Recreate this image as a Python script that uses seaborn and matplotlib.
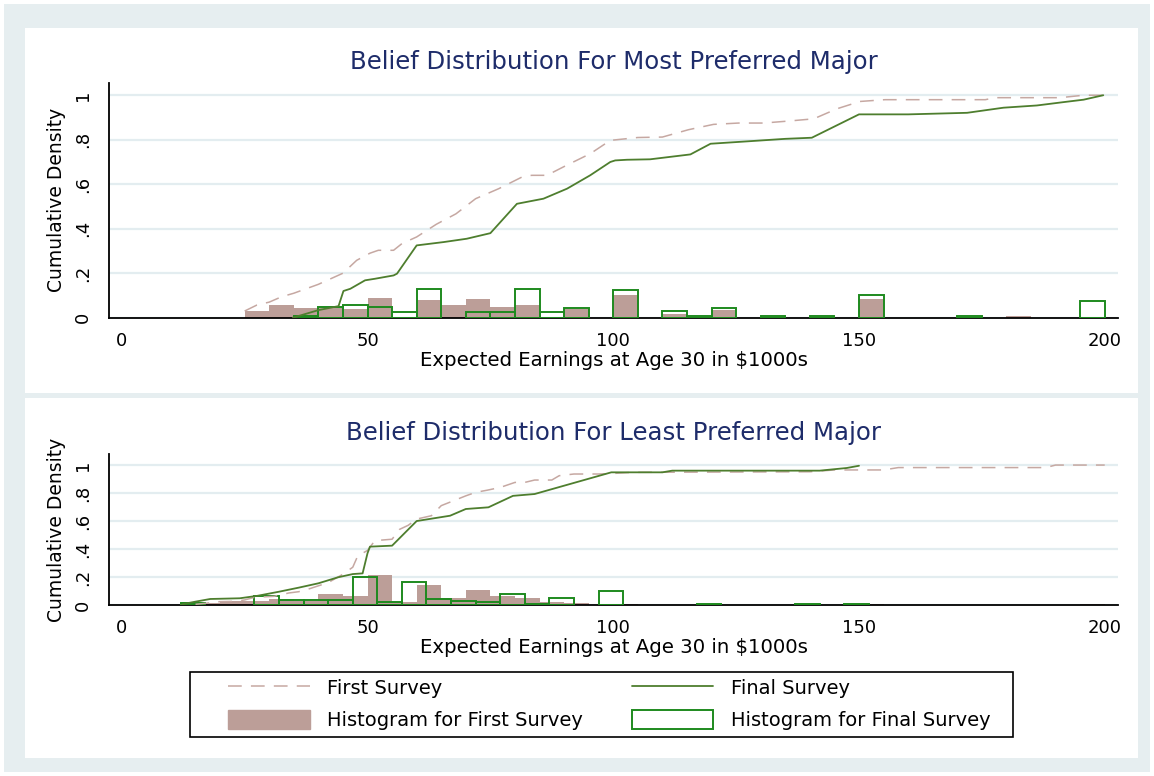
import numpy as np
import pandas as pd
import matplotlib
matplotlib.use("Agg")
import matplotlib.pyplot as plt
import seaborn as sns
from matplotlib.patches import Rectangle, Patch
from matplotlib.lines import Line2D

# ---- data ----
# most preferred major: cumulative curves
top_first_x = [25, 27.5, 30, 32.5, 35, 37.5, 40, 42, 45, 47.8, 50.5, 52.2, 55.3, 57, 60, 64, 68, 72,
               76.7, 81.4, 83.4, 86.5, 90.5, 95.3, 99.4, 105, 110, 115.3, 120.4, 125.5, 130.6, 135.7,
               140.8, 145.5, 150.2, 155.3, 175.7, 177.7, 190.9, 195.7, 199.7]
top_first_cdf = [0.03, 0.057, 0.07, 0.094, 0.11, 0.13, 0.15, 0.17, 0.2, 0.258, 0.29, 0.303, 0.303, 0.333,
                 0.363, 0.42, 0.467, 0.535, 0.58, 0.632, 0.64, 0.64, 0.685, 0.737, 0.797, 0.81, 0.812,
                 0.845, 0.869, 0.875, 0.875, 0.884, 0.894, 0.939, 0.972, 0.98, 0.98, 0.989, 0.989, 1.0, 1.0]
top_final_x = [34.8, 40, 44.1, 45.1, 46.5, 49.5, 51.5, 55.3, 56, 60, 65.5, 70.2, 75, 80.4, 85.8, 90.6,
               95.3, 99.4, 100.4, 102.8, 107.5, 115.7, 119.8, 127.5, 135, 140.4, 150, 160, 172, 179.4,
               186.2, 191.6, 195.7, 199.7]
top_final_cdf = [0.0, 0.034, 0.052, 0.12, 0.13, 0.168, 0.175, 0.19, 0.198, 0.325, 0.34, 0.355, 0.38, 0.512,
                 0.535, 0.58, 0.64, 0.70, 0.707, 0.71, 0.712, 0.734, 0.782, 0.793, 0.804, 0.809, 0.914,
                 0.914, 0.921, 0.944, 0.954, 0.969, 0.98, 1.0]

# most preferred major: histogram bins (left edge) and bar heights
top_first_bins = [25, 30, 35, 40, 45, 50, 60, 65, 70, 75, 80, 90, 100, 110, 120, 150, 180]
top_first_hist = [0.032, 0.059, 0.043, 0.043, 0.040, 0.088, 0.078, 0.055, 0.085, 0.048, 0.058, 0.037,
                  0.103, 0.018, 0.036, 0.085, 0.008]
top_final_bins = [35, 40, 45, 50, 55, 60, 70, 75, 80, 85, 90, 100, 110, 115, 120, 130, 140, 150, 170, 195]
top_final_hist = [0.008, 0.047, 0.055, 0.046, 0.027, 0.130, 0.025, 0.025, 0.130, 0.025, 0.045, 0.123,
                  0.028, 0.008, 0.045, 0.008, 0.008, 0.100, 0.008, 0.075]

# least preferred major: cumulative curves
bot_first_x = [15, 17, 20, 23, 25, 27, 31, 34, 36, 38, 42, 45, 47, 48, 50, 51.5, 55, 56.5, 58.3, 60, 63,
               65, 67.5, 70, 72, 74.3, 77, 80, 82, 84, 87.5, 89, 92, 97, 100, 104, 140, 145, 155, 158,
               188, 190, 200]
bot_first_cdf = [0.005, 0.012, 0.024, 0.026, 0.036, 0.055, 0.062, 0.086, 0.095, 0.114, 0.16, 0.22, 0.27,
                 0.35, 0.39, 0.46, 0.47, 0.54, 0.57, 0.614, 0.638, 0.71, 0.745, 0.78, 0.805, 0.82, 0.84,
                 0.876, 0.876, 0.893, 0.893, 0.924, 0.936, 0.936, 0.94, 0.948, 0.952, 0.965, 0.965, 0.982,
                 0.982, 1.0, 1.0]
bot_final_x = [12, 12.5, 15, 18, 24, 27.5, 32, 36, 40, 44, 47, 49, 50, 50.5, 55, 60, 66.8, 70, 74.6, 79.6,
               84, 99.6, 110, 112, 142, 147.5, 150]
bot_final_cdf = [0.0, 0.007, 0.024, 0.043, 0.048, 0.065, 0.095, 0.124, 0.155, 0.198, 0.221, 0.226, 0.37,
                 0.417, 0.424, 0.6, 0.638, 0.686, 0.698, 0.78, 0.793, 0.948, 0.948, 0.96, 0.96, 0.979, 0.995]

# least preferred major: histogram bins (left edge) and bar heights
bot_first_bins = [15, 20, 25, 30, 35, 40, 45, 50, 55, 60, 65, 70, 75, 80, 85, 90, 100, 150, 195]
bot_first_hist = [0.012, 0.03, 0.03, 0.04, 0.03, 0.079, 0.067, 0.214, 0.02, 0.143, 0.048, 0.107, 0.064,
                  0.048, 0.02, 0.014, 0.01, 0.01, 0.01]
bot_final_bins = [12, 27, 32, 37, 42, 47, 52, 57, 62, 67, 72, 77, 82, 87, 97, 117, 137, 147]
bot_final_hist = [0.012, 0.064, 0.036, 0.036, 0.036, 0.2, 0.02, 0.167, 0.043, 0.031, 0.019, 0.079, 0.01,
                  0.048, 0.102, 0.008, 0.008, 0.008]

titles = ["Belief Distribution For Most Preferred Major",
          "Belief Distribution For Least Preferred Major"]
xlabel = "Expected Earnings at Age 30 in $1000s"
ylabel = "Cumulative Density"
yticks = [0, 0.2, 0.4, 0.6, 0.8, 1.0]
ytick_labels = ["0", ".2", ".4", ".6", ".8", "1"]
xticks = [0, 50, 100, 150, 200]

# colours
brown = "#bc9e98"
dash_col = "#c6a8a2"
green_hist = "#1e8a1e"
green_line = "#4e7e2e"
band = "#e6eef0"
grid_col = "#e3edf0"
title_col = "#1e2c6a"

sns.set_style("white")
plt.rcParams["font.family"] = ["DejaVu Sans"]
plt.rcParams.update({"text.color": "black", "axes.labelcolor": "black",
                     "xtick.color": "black", "ytick.color": "black"})

W, H = 1154, 776
fig = plt.figure(figsize=(W / 100, H / 100), dpi=100)
fig.patch.set_facecolor("white")


def px_rect(x0, y0, x1, y1, face, edge="none", lw=0, z=-10):
    fig.add_artist(Rectangle((x0 / W, 1 - y1 / H), (x1 - x0) / W, (y1 - y0) / H,
                             transform=fig.transFigure, facecolor=face, edgecolor=edge,
                             linewidth=lw, zorder=z))


# background bands
px_rect(4, 4, 1150, 772, band)
px_rect(25, 28, 1138, 393, "white")
px_rect(25, 398, 1138, 758, "white")

ax_top = fig.add_axes([109 / W, 1 - 317.7 / H, (1118 - 109) / W, (317.7 - 83) / H])
ax_bot = fig.add_axes([109 / W, 1 - 605 / H, (1118 - 109) / W, (605 - 454) / H])

panels = [
    (ax_top, top_first_bins, top_first_hist, top_final_bins, top_final_hist,
     top_first_x, top_first_cdf, top_final_x, top_final_cdf, (25, 200), (25, 200), 1.055),
    (ax_bot, bot_first_bins, bot_first_hist, bot_final_bins, bot_final_hist,
     bot_first_x, bot_first_cdf, bot_final_x, bot_final_cdf, (15, 200), (12, 152), 1.079),
]

for i, (ax, fb, fh, gb, gh, fx, fc, gx, gc, f_rng, g_rng, ytop) in enumerate(panels):
    ax.set_facecolor("none")
    first_df = pd.DataFrame({"earn": fb, "frac": fh})
    final_df = pd.DataFrame({"earn": gb, "frac": gh})
    sns.histplot(data=first_df, x="earn", weights="frac", binwidth=5, binrange=f_rng, ax=ax,
                 stat="count", fill=True, color=brown, alpha=1, linewidth=0, zorder=2)
    sns.histplot(data=final_df, x="earn", weights="frac", binwidth=5, binrange=g_rng, ax=ax,
                 stat="count", fill=False, color=green_hist, linewidth=1.4, zorder=3)
    for p in ax.patches:
        if p.get_height() <= 0:
            p.set_visible(False)
    sns.lineplot(x=fx, y=fc, ax=ax, sort=False, estimator=None, color=dash_col,
                 lw=1.1, linestyle=(0, (9, 6)), zorder=4)
    sns.lineplot(x=gx, y=gc, ax=ax, sort=False, estimator=None, color=green_line,
                 lw=1.3, zorder=5)

    ax.set_xlim(-2.6, 202.7)
    ax.set_ylim(0, ytop)
    ax.set_xticks(xticks)
    ax.set_xticklabels([str(t) for t in xticks])
    ax.set_yticks(yticks)
    ax.set_yticklabels(ytick_labels, rotation=90, va="center")
    ax.tick_params(axis="both", direction="out", length=6, width=1.1, color="black",
                   labelsize=13)
    ax.tick_params(axis="x", pad=4)
    ax.tick_params(axis="y", pad=6)
    ax.yaxis.grid(True, color=grid_col, lw=1.6, zorder=0)
    ax.xaxis.grid(False)
    ax.set_axisbelow(True)
    for s in ["top", "right"]:
        ax.spines[s].set_visible(False)
    for s in ["left", "bottom"]:
        ax.spines[s].set_color("black")
        ax.spines[s].set_linewidth(1.3)
    ax.set_xlabel(xlabel, fontsize=14.2, labelpad=1)
    ax.set_ylabel(ylabel, fontsize=13.5, labelpad=6)
    ax.set_title(titles[i], fontsize=17.6, color=title_col, pad=10)

handles = [
    Line2D([], [], color=dash_col, lw=1.1, linestyle=(0, (9, 6))),
    Patch(facecolor=brown, edgecolor=brown),
    Line2D([], [], color=green_line, lw=1.3),
    Patch(facecolor="white", edgecolor=green_hist, lw=1.4),
]
labels = ["First Survey", "Histogram for First Survey", "Final Survey", "Histogram for Final Survey"]
leg = fig.legend(handles, labels, ncol=2, loc="upper left",
                 bbox_to_anchor=(228 / W, 1 - 678 / H),
                 frameon=False, fontsize=14,
                 handlelength=4.2, handleheight=1.13, handletextpad=0.9,
                 columnspacing=2.5, labelspacing=0.62, borderpad=0, borderaxespad=0)
# legend frame
px_rect(190, 672, 1013, 737, "none", edge="black", lw=1.2, z=5)

fig.savefig("out.png", dpi=100, facecolor=fig.get_facecolor())
